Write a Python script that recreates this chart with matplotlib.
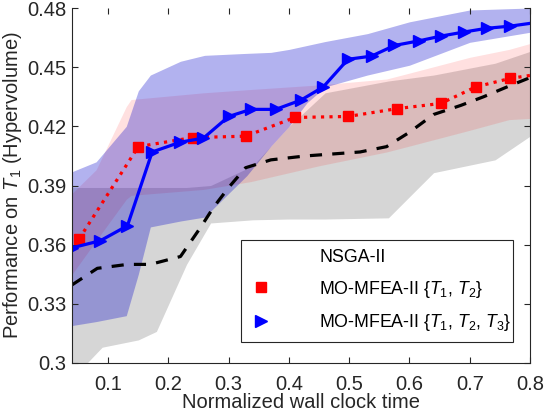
import matplotlib
matplotlib.use("Agg")
import matplotlib.pyplot as plt
from matplotlib.lines import Line2D

plt.rcParams['font.family'] = ['Liberation Sans', 'DejaVu Sans']
plt.rcParams['mathtext.fontset'] = 'custom'
plt.rcParams['mathtext.rm'] = 'Liberation Sans'
plt.rcParams['mathtext.it'] = 'Liberation Sans:italic'

# mean curves
nsga_x = [0.04, 0.082, 0.132, 0.17, 0.22, 0.253, 0.275, 0.30, 0.328, 0.37, 0.428, 0.518,
          0.562, 0.60, 0.64, 0.685, 0.723, 0.762, 0.80]
nsga_y = [0.3396, 0.348, 0.350, 0.350, 0.354, 0.3686, 0.379, 0.389, 0.399, 0.403, 0.405, 0.407,
          0.4097, 0.417, 0.426, 0.4306, 0.435, 0.440, 0.4447]

mo2_x = [0.052, 0.15, 0.24, 0.328, 0.41, 0.498, 0.58, 0.652, 0.71, 0.767, 0.80]
mo2_y = [0.363, 0.4097, 0.4143, 0.415, 0.4245, 0.425, 0.429, 0.4316, 0.440, 0.4443, 0.4458]

mo3_x = [0.04, 0.087, 0.132, 0.173, 0.22, 0.258, 0.30, 0.337, 0.378, 0.42, 0.457, 0.498,
         0.537, 0.575, 0.615, 0.653, 0.69, 0.728, 0.767, 0.80]
mo3_y = [0.3584, 0.362, 0.3696, 0.407, 0.412, 0.414, 0.425, 0.4286, 0.4286, 0.4333, 0.440, 0.454,
         0.4556, 0.461, 0.4633, 0.4658, 0.4678, 0.4697, 0.4708, 0.4722]

# shaded bands (lower / upper)
nsga_bx = [0.04, 0.065, 0.09, 0.15, 0.18, 0.23, 0.27, 0.34, 0.40, 0.46, 0.565, 0.64, 0.742, 0.80]
nsga_lo = [0.29, 0.30, 0.308, 0.3117, 0.316, 0.35, 0.371, 0.3726, 0.373, 0.373, 0.3736, 0.3965, 0.403, 0.415]
nsga_hi = [0.389, 0.389, 0.389, 0.389, 0.389, 0.389, 0.390, 0.400, 0.420, 0.437, 0.443, 0.446, 0.452, 0.458]

mo2_bx = [0.04, 0.08, 0.13, 0.138, 0.258, 0.337, 0.45, 0.562, 0.60, 0.70, 0.765, 0.80]
mo2_lo = [0.345, 0.362, 0.383, 0.385, 0.388, 0.392, 0.400, 0.407, 0.410, 0.418, 0.4234, 0.424]
mo2_hi = [0.386, 0.398, 0.430, 0.4336, 0.437, 0.4387, 0.441, 0.444, 0.447, 0.455, 0.459, 0.462]

mo3_bx = [0.04, 0.08, 0.13, 0.15, 0.17, 0.22, 0.26, 0.33, 0.37, 0.40, 0.43, 0.46, 0.53, 0.60, 0.70, 0.80]
mo3_lo = [0.319, 0.321, 0.324, 0.345, 0.369, 0.372, 0.374, 0.395, 0.41, 0.42, 0.432, 0.440, 0.446, 0.451, 0.4626, 0.4677]
mo3_hi = [0.397, 0.402, 0.420, 0.438, 0.446, 0.453, 0.456, 0.457, 0.4575, 0.459, 0.461, 0.463, 0.467, 0.473, 0.479, 0.48]

xticks = [0.1, 0.2, 0.3, 0.4, 0.5, 0.6, 0.7, 0.8]
yticks = [0.3, 0.33, 0.36, 0.39, 0.42, 0.45, 0.48]

fig = plt.figure(figsize=(5.44, 4.16), dpi=100)
ax = fig.add_axes([72 / 544, 53 / 416, 458 / 544, 355 / 416])

ax.fill_between(nsga_bx, nsga_lo, nsga_hi, color='black', alpha=0.16, lw=0)
ax.fill_between(mo2_bx, mo2_lo, mo2_hi, color='red', alpha=0.12, lw=0)
ax.fill_between(mo3_bx, mo3_lo, mo3_hi, color='#0000CC', alpha=0.30, lw=0)

ax.plot(nsga_x, nsga_y, color='black', lw=2.3, linestyle=(0, (3.8, 3.2)))
ax.plot(mo2_x, mo2_y, color='red', lw=2.3, linestyle=':', marker='s', ms=7,
        markevery=list(range(len(mo2_x) - 1)))
ax.plot(mo3_x, mo3_y, color='blue', lw=2.3, linestyle='-', marker='>', ms=9,
        markevery=list(range(len(mo3_x) - 1)))

ax.set_xlim(0.04, 0.8)
ax.set_ylim(0.3, 0.48)
ax.set_xticks(xticks)
ax.set_xticklabels([f"{t:g}" for t in xticks])
ax.set_yticks(yticks)
ax.set_yticklabels([f"{t:g}" for t in yticks])
ax.tick_params(direction='in', length=4, width=0.8, top=True, right=True,
               labelsize=14.5, colors='#262626')
ax.tick_params(axis='x', pad=9)
ax.tick_params(axis='y', pad=4)
ax.spines['top'].set_visible(False)
for s in ['left', 'right', 'bottom']:
    ax.spines[s].set_color('#262626')
    ax.spines[s].set_linewidth(0.8)

ax.set_xlabel('Normalized wall clock time', fontsize=14.5, color='#262626', labelpad=-1)
ax.set_ylabel('Performance on $T_1$ (Hypervolume)', fontsize=14.5, color='#262626', labelpad=2)

handles = [Line2D([], [], linestyle='none'),
           Line2D([], [], linestyle='none', marker='s', color='red', ms=7),
           Line2D([], [], linestyle='none', marker='>', color='blue', ms=9)]
labels = ['NSGA-II', 'MO-MFEA-II {$T_1$, $T_2$}', 'MO-MFEA-II {$T_1$, $T_2$, $T_3$}']
leg = ax.legend(handles, labels, loc='lower left', bbox_to_anchor=(0.369, 0.059, 0.594, 0.282),
                mode='expand', fontsize=12.8, frameon=True, fancybox=False, framealpha=1,
                edgecolor='#262626', borderpad=0.5, handlelength=1.2,
                handletextpad=2.7, labelspacing=0.7, borderaxespad=0)
leg.get_frame().set_linewidth(0.8)

fig.savefig('out.png', dpi=100)
